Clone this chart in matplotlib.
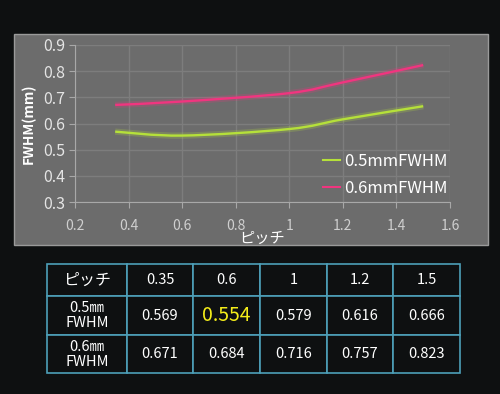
import numpy as np
import matplotlib.pyplot as plt
from matplotlib.path import Path
from matplotlib.patches import PathPatch, Rectangle
from matplotlib.lines import Line2D

plt.rcParams['font.family'] = ['Noto Sans CJK JP', 'DejaVu Sans']

# データ
pitch = [0.35, 0.6, 1, 1.2, 1.5]
fwhm_05 = [0.569, 0.554, 0.579, 0.616, 0.666]
fwhm_06 = [0.671, 0.684, 0.716, 0.757, 0.823]
series_labels = ['0.5mmFWHM', '0.6mmFWHM']
row_labels = ['0.5㎜\nFWHM', '0.6㎜\nFWHM']
series_colors = ['#b5e03a', '#f0357f']

bg = '#0e1011'
panel = '#6c6c6c'
grid_c = '#7d7d7d'


def smooth_path(x, y):
    # Excel風のなめらかな線 (Catmull-Rom -> Bezier)
    p = np.column_stack([x, y]).astype(float)
    n = len(p)
    verts = [p[0]]
    codes = [Path.MOVETO]
    for i in range(n - 1):
        p0 = p[max(i - 1, 0)]
        p1 = p[i]
        p2 = p[i + 1]
        p3 = p[min(i + 2, n - 1)]
        c1 = p1 + (p2 - p0) / 6
        c2 = p2 - (p3 - p1) / 6
        verts += [c1, c2, p2]
        codes += [Path.CURVE4] * 3
    return Path(verts, codes)


fig = plt.figure(figsize=(5, 3.94), dpi=100)
fig.patch.set_facecolor(bg)

# グラフ背景パネル
fig.patches.append(Rectangle((0.028, 0.378), 0.948, 0.536, transform=fig.transFigure,
                             facecolor=panel, edgecolor='#9a9a9a', linewidth=1.0, zorder=-1))

ax = fig.add_axes([0.15, 0.487, 0.75, 0.399])
ax.set_facecolor('none')
ax.set_xlim(0.2, 1.6)
ax.set_ylim(0.3, 0.9)
ax.set_xticks(np.arange(0.2, 1.61, 0.2))
ax.set_yticks(np.arange(0.3, 0.91, 0.1))
ax.set_xticklabels(['0.2', '0.4', '0.6', '0.8', '1', '1.2', '1.4', '1.6'])
ax.set_yticklabels(['0.3', '0.4', '0.5', '0.6', '0.7', '0.8', '0.9'])
ax.grid(True, color=grid_c, linewidth=1.0)
ax.set_axisbelow(True)
for s in ['top', 'right']:
    ax.spines[s].set_visible(False)
for s in ['left', 'bottom']:
    ax.spines[s].set_color('#a8a8a8')
ax.tick_params(axis='y', colors='#a8a8a8', labelcolor='#e4e4e4', labelsize=11.5, length=4, pad=3)
ax.tick_params(axis='x', colors='#a8a8a8', labelcolor='#cfcfcf', labelsize=10, length=4, pad=8)

for ys, c in zip([fwhm_05, fwhm_06], series_colors):
    path = smooth_path(pitch, ys)
    ax.add_patch(PathPatch(path, facecolor='none', edgecolor=c, linewidth=4.5, alpha=0.22, zorder=3))
    ax.add_patch(PathPatch(path, facecolor='none', edgecolor=c, linewidth=1.7, zorder=4))

ax.set_ylabel('FWHM(mm)', color='white', fontsize=10, fontweight='bold')
ax.yaxis.set_label_coords(-0.105, 0.5)
ax.set_xlabel('ピッチ', color='white', fontsize=11)
ax.xaxis.set_label_coords(0.5, -0.175)

handles = [Line2D([], [], color=c, linewidth=1.5) for c in series_colors]
leg = ax.legend(handles, series_labels, loc='lower right', bbox_to_anchor=(1.01, -0.01),
                borderaxespad=0, frameon=False, handlelength=1.0, handletextpad=0.25,
                labelspacing=0.6, prop={'size': 12})
for t in leg.get_texts():
    t.set_color('white')

# 表
tax = fig.add_axes([0.094, 0.053, 0.826, 0.277])
tax.axis('off')
cell_text = [['ピッチ'] + [str(p) for p in pitch],
             [row_labels[0]] + ['%.3f' % v for v in fwhm_05],
             [row_labels[1]] + ['%.3f' % v for v in fwhm_06]]
col_w = [80, 66, 67, 67, 66, 67]
row_h = [32, 39, 38]
tbl = tax.table(cellText=cell_text, cellLoc='center', bbox=[0, 0, 1, 1],
                colWidths=[w / sum(col_w) for w in col_w])
tbl.auto_set_font_size(False)
for (r, c), cell in tbl.get_celld().items():
    cell.set_facecolor(bg)
    cell.set_edgecolor('#4d9fb8')
    cell.set_linewidth(1.2)
    cell.set_height(row_h[r] / sum(row_h))
    txt = cell.get_text()
    txt.set_color('white')
    txt.set_fontsize(10.5)
    if c == 0 and r > 0:
        txt.set_linespacing(1.1)
    if r == 0 and c == 0:
        txt.set_fontsize(11.5)

hl = tbl[1, 2].get_text()
hl.set_color('#f5ee1a')
hl.set_fontsize(14)

fig.savefig('out.png', dpi=100, facecolor=bg)
